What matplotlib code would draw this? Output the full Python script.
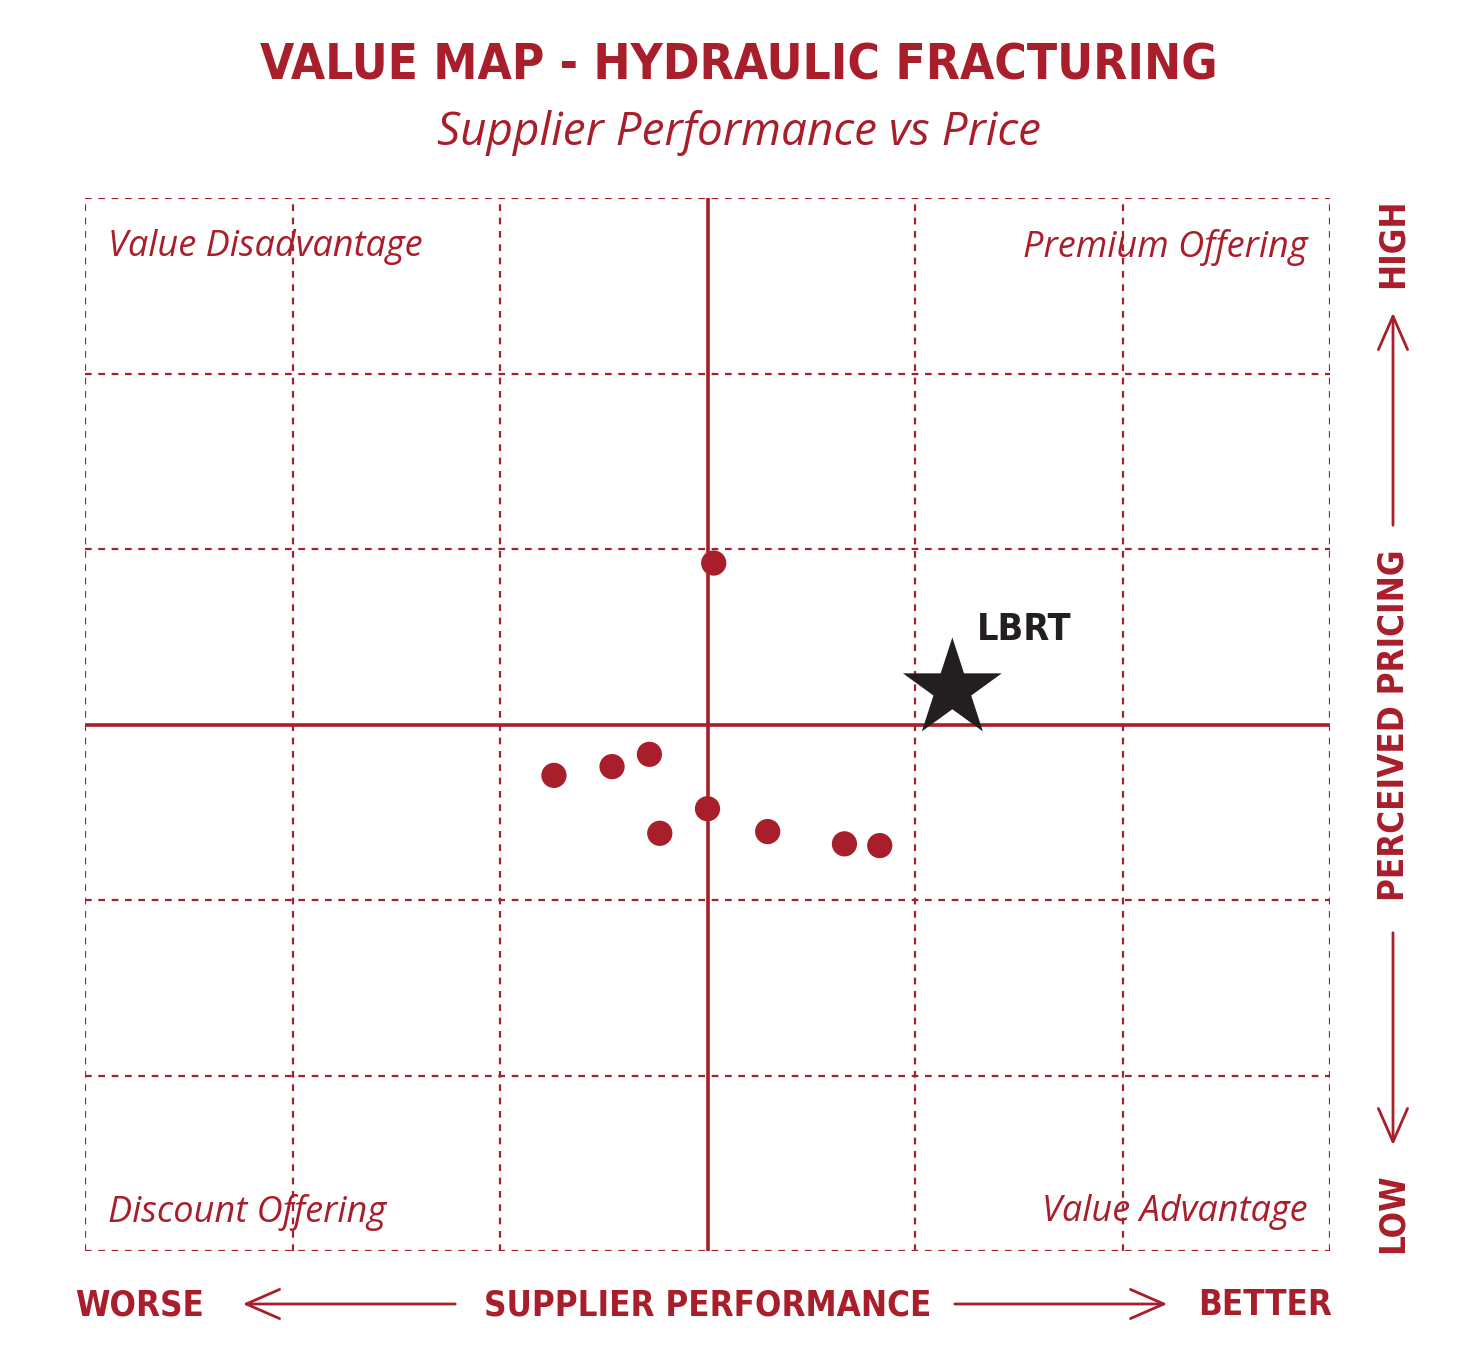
import matplotlib
matplotlib.use("Agg")
import matplotlib.pyplot as plt

RED = "#A81E2A"
px_x = [3.03, 2.26, 2.54, 2.72, 3.00, 2.77, 3.29, 3.66, 3.83]
px_y = [3.92, 2.71, 2.76, 2.83, 2.52, 2.38, 2.39, 2.32, 2.31]
star_x, star_y = [4.18], [3.20]
star_label = "LBRT"
quadrants = ["Value Disadvantage", "Premium Offering", "Discount Offering", "Value Advantage"]

W, H = 1478, 1349
fig = plt.figure(figsize=(W/100, H/100), dpi=100)
ax = fig.add_axes([85/W, 98/H, 1245/W, 1053/H])
ax.set_xlim(0, 6); ax.set_ylim(0, 6)
for v in range(0, 7):
    if v == 3: continue
    ax.axvline(v, color=RED, ls=(0, (3, 3)), lw=1.6)
    ax.axhline(v, color=RED, ls=(0, (3, 3)), lw=1.6)
ax.axvline(3, color=RED, lw=2.6)
ax.axhline(3, color=RED, lw=2.6)
for s in ax.spines.values(): s.set_visible(False)
ax.set_xticks([]); ax.set_yticks([])
ax.scatter(px_x, px_y, s=330, color=RED, zorder=3, edgecolors='none')
ax.scatter(star_x, star_y, s=5600, marker='*', color='#231F20', zorder=4, edgecolors='none')
cond = dict(family="DejaVu Sans", fontstretch='condensed', weight='bold')
ax.text(star_x[0]+0.12, star_y[0]+0.28, star_label, fontsize=27, color='#231F20', **cond)
qk = dict(style='italic', fontsize=26, color=RED, family=["Open Sans", "DejaVu Sans"])
ax.text(0.11, 5.72, quadrants[0], ha='left', va='center', **qk)
ax.text(5.89, 5.72, quadrants[1], ha='right', va='center', **qk)
ax.text(0.11, 0.22, quadrants[2], ha='left', va='center', **qk)
ax.text(5.89, 0.22, quadrants[3], ha='right', va='center', **qk)

def fx(p): return p/W
def fy(p): return 1-p/H
fig.text(0.5, fy(65), "VALUE MAP - HYDRAULIC FRACTURING", ha='center', va='center',
         fontsize=35.5, color=RED, **cond)
fig.text(0.5, fy(133), "Supplier Performance vs Price", ha='center', va='center',
         family=["Open Sans", "DejaVu Sans"], style='italic', fontsize=33, color=RED)
bk = dict(fontsize=25, color=RED, va='center', **cond)
fig.text(fx(140), fy(1305), "WORSE", ha='center', **bk)
fig.text(fx(708), fy(1305), "SUPPLIER PERFORMANCE", ha='center', **bk)
fig.text(fx(1265), fy(1305), "BETTER", ha='center', **bk)
fig.text(fx(1393), fy(1213), "LOW", ha='center', rotation=90, **bk)
fig.text(fx(1393), fy(725), "PERCEIVED PRICING", ha='center', rotation=90, **bk)
fig.text(fx(1393), fy(243), "HIGH", ha='center', rotation=90, **bk)
ap = dict(arrowstyle='->,head_length=0.8,head_width=0.35', color=RED, lw=2, mutation_scale=30)
for a, b in [((458, 1304), (240, 1304)), ((952, 1304), (1170, 1304)),
             ((1393, 528), (1393, 310)), ((1393, 930), (1393, 1148))]:
    fig.add_artist(matplotlib.patches.FancyArrowPatch((fx(a[0]), fy(a[1])), (fx(b[0]), fy(b[1])),
                                                      transform=fig.transFigure, **ap))
fig.savefig("out.png", dpi=100, facecolor='white')
